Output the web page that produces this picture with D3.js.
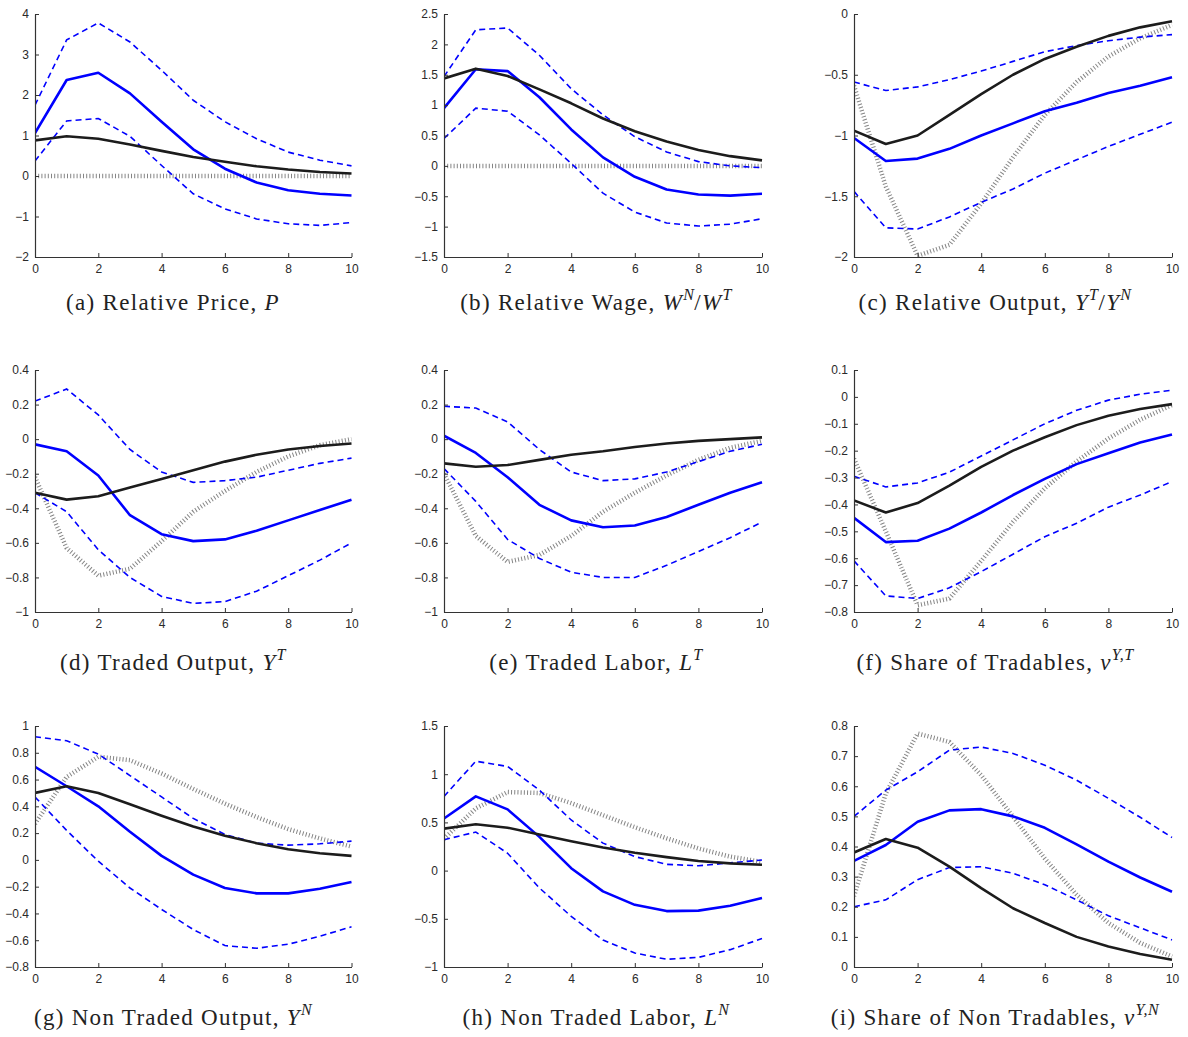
<!DOCTYPE html>
<html><head><meta charset="utf-8">
<script src="https://cdn.jsdelivr.net/npm/d3@7"></script>
<style>
html,body{margin:0;padding:0;background:#fff;}
svg{display:block;}
.tick text{font-family:"Liberation Sans",Arial,sans-serif;font-size:12px;fill:#2a2a2a;}
.cap{font-family:"Liberation Serif","Times New Roman",serif;font-size:23px;fill:#222;letter-spacing:1.3px;}
</style>
</head><body>
<svg id="chart" width="1188" height="1037"></svg>
<script>
// horizon
const periods = [0,1,2,3,4,5,6,7,8,9,10];
const xTicks = [0,2,4,6,8,10];

// (a) Relative Price
const aMedian = [1.06,2.37,2.55,2.04,1.34,0.66,0.18,-0.16,-0.35,-0.44,-0.48];
const aUpper  = [1.75,3.36,3.78,3.31,2.61,1.87,1.34,0.92,0.59,0.39,0.25];
const aLower  = [0.37,1.36,1.42,0.98,0.26,-0.44,-0.81,-1.06,-1.18,-1.22,-1.15];
const aModel  = [0.88,0.98,0.92,0.78,0.62,0.47,0.35,0.24,0.16,0.10,0.06];
const aAlt    = [0,0,0,0,0,0,0,0,0,0,0];
const aTicks  = [-2,-1,0,1,2,3,4];

// (b) Relative Wage
const bMedian = [0.95,1.59,1.56,1.13,0.60,0.14,-0.18,-0.39,-0.47,-0.49,-0.46];
const bUpper  = [1.47,2.24,2.27,1.82,1.27,0.84,0.48,0.23,0.07,0.0,-0.03];
const bLower  = [0.45,0.95,0.90,0.51,0.04,-0.45,-0.76,-0.94,-0.99,-0.96,-0.87];
const bModel  = [1.44,1.60,1.48,1.26,1.03,0.78,0.57,0.40,0.26,0.16,0.09];
const bAlt    = [0,0,0,0,0,0,0,0,0,0,0];
const bTicks  = [-1.5,-1,-0.5,0,0.5,1,1.5,2,2.5];

// (c) Relative Output
const cMedian = [-1.02,-1.21,-1.19,-1.11,-1.00,-0.90,-0.80,-0.73,-0.65,-0.59,-0.52];
const cUpper  = [-0.56,-0.63,-0.60,-0.54,-0.47,-0.39,-0.31,-0.26,-0.22,-0.19,-0.17];
const cLower  = [-1.46,-1.76,-1.77,-1.67,-1.55,-1.44,-1.31,-1.20,-1.09,-0.99,-0.89];
const cModel  = [-0.96,-1.07,-1.00,-0.83,-0.66,-0.50,-0.37,-0.27,-0.18,-0.11,-0.06];
const cAlt    = [-0.59,-1.42,-1.99,-1.90,-1.56,-1.18,-0.83,-0.56,-0.35,-0.20,-0.09];
const cTicks  = [-2,-1.5,-1,-0.5,0];

// (d) Traded Output
const dMedian = [-0.03,-0.07,-0.21,-0.44,-0.55,-0.59,-0.58,-0.53,-0.47,-0.41,-0.35];
const dUpper  = [0.22,0.29,0.14,-0.06,-0.19,-0.25,-0.24,-0.22,-0.18,-0.14,-0.11];
const dLower  = [-0.31,-0.42,-0.64,-0.80,-0.91,-0.95,-0.94,-0.88,-0.79,-0.70,-0.60];
const dModel  = [-0.31,-0.35,-0.33,-0.28,-0.23,-0.18,-0.13,-0.09,-0.06,-0.04,-0.025];
const dAlt    = [-0.22,-0.63,-0.79,-0.75,-0.59,-0.42,-0.30,-0.19,-0.10,-0.035,0.0];
const dTicks  = [-1,-0.8,-0.6,-0.4,-0.2,0,0.2,0.4];

// (e) Traded Labor
const eMedian = [0.02,-0.08,-0.22,-0.38,-0.47,-0.51,-0.50,-0.45,-0.38,-0.31,-0.25];
const eUpper  = [0.19,0.18,0.10,-0.06,-0.19,-0.24,-0.23,-0.19,-0.13,-0.07,-0.03];
const eLower  = [-0.17,-0.36,-0.58,-0.69,-0.77,-0.80,-0.80,-0.73,-0.65,-0.57,-0.48];
const eModel  = [-0.14,-0.16,-0.15,-0.12,-0.09,-0.07,-0.045,-0.025,-0.01,0.0,0.01];
const eAlt    = [-0.20,-0.56,-0.71,-0.67,-0.56,-0.42,-0.31,-0.21,-0.12,-0.05,-0.01];
const eTicks  = [-1,-0.8,-0.6,-0.4,-0.2,0,0.2,0.4];

// (f) Share of Tradables
const fMedian = [-0.45,-0.54,-0.535,-0.49,-0.43,-0.365,-0.305,-0.25,-0.21,-0.17,-0.14];
const fUpper  = [-0.295,-0.335,-0.32,-0.28,-0.22,-0.16,-0.10,-0.05,-0.012,0.01,0.025];
const fLower  = [-0.61,-0.74,-0.75,-0.71,-0.65,-0.585,-0.52,-0.47,-0.41,-0.365,-0.315];
const fModel  = [-0.385,-0.43,-0.395,-0.33,-0.26,-0.20,-0.15,-0.105,-0.07,-0.045,-0.027];
const fAlt    = [-0.23,-0.50,-0.775,-0.75,-0.61,-0.465,-0.34,-0.24,-0.155,-0.085,-0.03];
const fTicks  = [-0.8,-0.7,-0.6,-0.5,-0.4,-0.3,-0.2,-0.1,0,0.1];

// (g) Non Traded Output
const gMedian = [0.695,0.55,0.40,0.21,0.03,-0.11,-0.21,-0.25,-0.25,-0.215,-0.165];
const gUpper  = [0.92,0.89,0.79,0.63,0.47,0.31,0.19,0.125,0.11,0.12,0.14];
const gLower  = [0.47,0.22,-0.01,-0.21,-0.37,-0.52,-0.64,-0.66,-0.63,-0.57,-0.50];
const gModel  = [0.50,0.55,0.50,0.415,0.33,0.25,0.18,0.125,0.08,0.05,0.03];
const gAlt    = [0.27,0.62,0.77,0.745,0.645,0.53,0.42,0.32,0.23,0.16,0.10];
const gTicks  = [-0.8,-0.6,-0.4,-0.2,0,0.2,0.4,0.6,0.8,1];

// (h) Non Traded Labor
const hMedian = [0.54,0.77,0.635,0.35,0.025,-0.215,-0.355,-0.42,-0.415,-0.365,-0.285];
const hUpper  = [0.77,1.135,1.08,0.835,0.525,0.285,0.145,0.065,0.05,0.08,0.11];
const hLower  = [0.32,0.40,0.18,-0.18,-0.475,-0.72,-0.855,-0.92,-0.90,-0.82,-0.705];
const hModel  = [0.435,0.48,0.445,0.375,0.305,0.24,0.185,0.14,0.10,0.075,0.06];
const hAlt    = [0.33,0.645,0.815,0.805,0.70,0.575,0.45,0.335,0.23,0.145,0.09];
const hTicks  = [-1,-0.5,0,0.5,1,1.5];

// (i) Share of Non Tradables
const iMedian = [0.352,0.405,0.482,0.52,0.524,0.50,0.462,0.407,0.35,0.297,0.25];
const iUpper  = [0.50,0.587,0.648,0.72,0.73,0.709,0.67,0.62,0.56,0.497,0.43];
const iLower  = [0.20,0.223,0.29,0.33,0.333,0.311,0.273,0.223,0.17,0.13,0.09];
const iModel  = [0.38,0.425,0.396,0.333,0.262,0.195,0.146,0.10,0.068,0.043,0.024];
const iAlt    = [0.235,0.576,0.775,0.747,0.637,0.499,0.36,0.24,0.146,0.08,0.035];
const iTicks  = [0,0.1,0.2,0.3,0.4,0.5,0.6,0.7,0.8];

// caption pieces: n = roman, i = math italic, s = superscript (italic)
const captions = [
  [["(a) Relative Price, ","n"],["P","i"]],
  [["(b) Relative Wage, ","n"],["W","i"],["N","s"],["/","n"],["W","i"],["T","s"]],
  [["(c) Relative Output, ","n"],["Y","i"],["T","s"],["/","n"],["Y","i"],["N","s"]],
  [["(d) Traded Output, ","n"],["Y","i"],["T","s"]],
  [["(e) Traded Labor, ","n"],["L","i"],["T","s"]],
  [["(f) Share of Tradables, ","n"],["\u03BD","i"],["Y,T","s"]],
  [["(g) Non Traded Output, ","n"],["Y","i"],["N","s"]],
  [["(h) Non Traded Labor, ","n"],["L","i"],["N","s"]],
  [["(i) Share of Non Tradables, ","n"],["\u03BD","i"],["Y,N","s"]]
];

const panels = [
  {med:aMedian,up:aUpper,lo:aLower,mod:aModel,alt:aAlt,ticks:aTicks},
  {med:bMedian,up:bUpper,lo:bLower,mod:bModel,alt:bAlt,ticks:bTicks},
  {med:cMedian,up:cUpper,lo:cLower,mod:cModel,alt:cAlt,ticks:cTicks},
  {med:dMedian,up:dUpper,lo:dLower,mod:dModel,alt:dAlt,ticks:dTicks},
  {med:eMedian,up:eUpper,lo:eLower,mod:eModel,alt:eAlt,ticks:eTicks},
  {med:fMedian,up:fUpper,lo:fLower,mod:fModel,alt:fAlt,ticks:fTicks},
  {med:gMedian,up:gUpper,lo:gLower,mod:gModel,alt:gAlt,ticks:gTicks},
  {med:hMedian,up:hUpper,lo:hLower,mod:hModel,alt:hAlt,ticks:hTicks},
  {med:iMedian,up:iUpper,lo:iLower,mod:iModel,alt:iAlt,ticks:iTicks}
];

// layout
const colX = [[35,351.5],[444,762],[854,1172]];
const rowY = [[14,257],[370,612],[726,967]];
const capCX = [173,596,995];
const capBase = [310,670,1025];

const svg = d3.select("#chart");
const fmt = v => { let s = d3.format("~g")(v); return s.replace("-","\u2212"); };

panels.forEach((p,k)=>{
  const r = Math.floor(k/3), c = k%3;
  const [x0,x1] = colX[c], [y0,y1] = rowY[r];
  const ext = d3.extent(p.ticks);
  const x = d3.scaleLinear().domain([0,10]).range([x0,x1]);
  const y = d3.scaleLinear().domain(ext).range([y1,y0]);
  const g = svg.append("g");
  const clipId = "clip"+k;
  g.append("clipPath").attr("id",clipId).append("rect")
    .attr("x",x0).attr("y",y0-3).attr("width",x1-x0+3).attr("height",y1-y0+3);
  const line = d3.line().x((d,i)=>x(periods[i])).y(d=>y(d));
  const lg = g.append("g").attr("clip-path",`url(#${clipId})`);
  lg.append("path").attr("d",line(p.alt)).attr("fill","none")
    .attr("stroke","#858585").attr("stroke-width",4.5).attr("stroke-dasharray","1,2.2");
  [p.up,p.lo].forEach(s=>{
    lg.append("path").attr("d",line(s)).attr("fill","none")
      .attr("stroke","#0000ff").attr("stroke-width",1.6).attr("stroke-dasharray","6,4");
  });
  lg.append("path").attr("d",line(p.med)).attr("fill","none")
    .attr("stroke","#0000ff").attr("stroke-width",2.6).attr("stroke-linejoin","round");
  lg.append("path").attr("d",line(p.mod)).attr("fill","none")
    .attr("stroke","#1c1c1c").attr("stroke-width",2.6).attr("stroke-linejoin","round");

  const ya = g.append("g").attr("transform",`translate(${x0},0)`)
    .call(d3.axisLeft(y).tickValues(p.ticks).tickFormat(fmt).tickSizeInner(-4).tickSizeOuter(0).tickPadding(6));
  const xa = g.append("g").attr("transform",`translate(0,${y1})`)
    .call(d3.axisBottom(x).tickValues(xTicks).tickFormat(fmt).tickSizeInner(-4).tickSizeOuter(0).tickPadding(7));
  [ya,xa].forEach(a=>{
    a.select(".domain").attr("stroke","#333").attr("stroke-width",1.2);
    a.selectAll(".tick line").attr("stroke","#333").attr("stroke-width",1);
  });

  // caption
  const t = svg.append("text").attr("class","cap").attr("x",capCX[c]).attr("y",capBase[r])
    .attr("text-anchor","middle");
  let sup = false;
  captions[k].forEach(([txt,kind])=>{
    const ts = t.append("tspan").text(txt);
    if(kind==="i"){ ts.attr("font-style","italic"); if(sup){ts.attr("dy",10); sup=false;} }
    else if(kind==="s"){ ts.attr("font-style","italic").attr("font-size","16px").attr("letter-spacing","0.5px").attr("dy",-10); sup=true; }
    else { if(sup){ts.attr("dy",10); sup=false;} }
  });
});
</script>
</body></html>
